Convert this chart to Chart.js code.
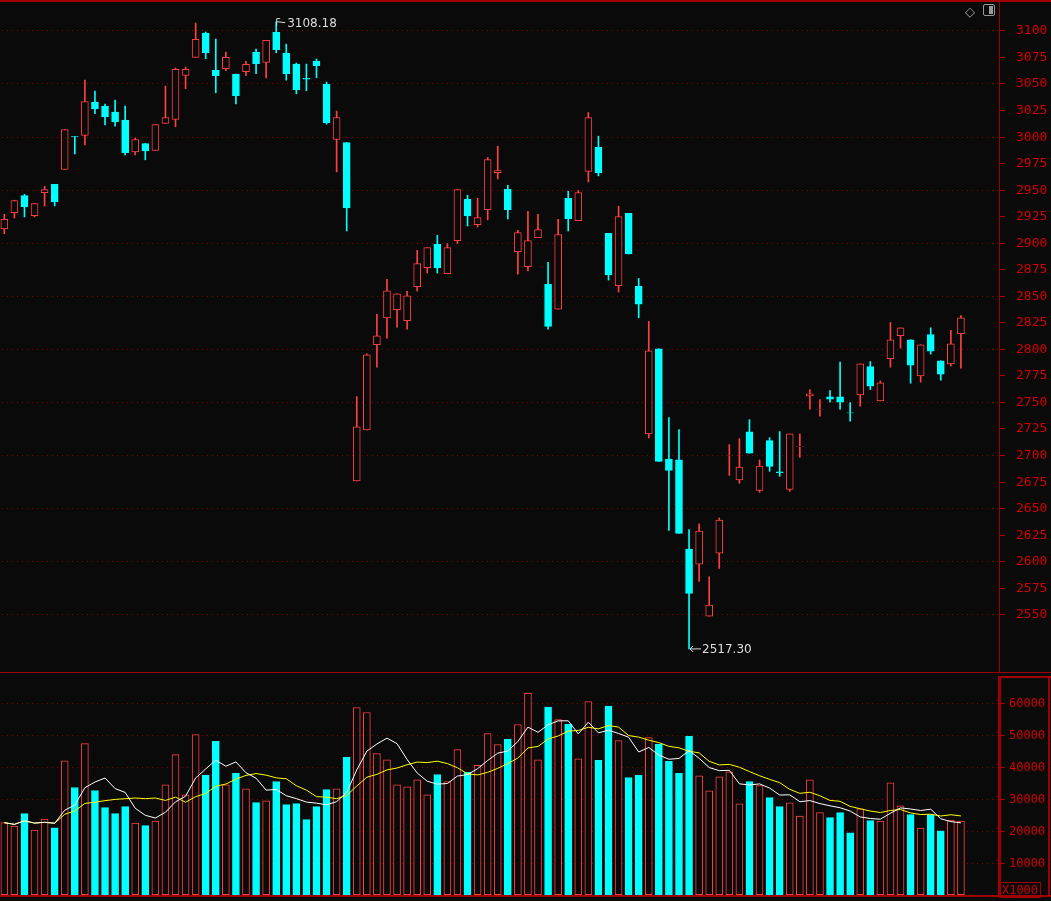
<!DOCTYPE html>
<html><head><meta charset="utf-8">
<script src="https://cdn.jsdelivr.net/npm/chart.js@4.4.1/dist/chart.umd.min.js"></script>
<style>
html,body{margin:0;padding:0;background:#0a0a0a;overflow:hidden;width:1051px;height:901px;}
#c1{position:absolute;left:0;top:0;}
#c2{position:absolute;left:0;top:676px;}
.ic{position:absolute;}
</style></head><body>
<canvas id="c1" width="1051" height="673"></canvas>
<canvas id="c2" width="1051" height="221"></canvas>
<div class="ic" style="left:965px;top:4px;color:#aaa;font:13px 'DejaVu Sans';">◇</div>
<div class="ic" style="left:983px;top:4px;width:10px;height:10px;border:1px solid #999;border-radius:2px;"><div style="position:absolute;right:1px;top:1px;width:4px;height:8px;background:#999"></div></div>
<div class="ic" style="left:999px;top:882px;width:40px;height:14px;border:1px solid #a00000;color:#d00000;font:12px 'DejaVu Sans Mono';line-height:14px;text-align:center;">X1000</div>
<script>
const opens  = [2912.9,2928.3,2944.3,2925.5,2947.2,2955.0,2968.9,3000.0,3001.0,3032.4,3028.6,3023.0,3015.4,2985.5,2993.4,2986.8,3012.3,3016.0,3057.5,3074.5,3097.5,3062.6,3063.8,3058.8,3061.0,3079.6,3069.8,3098.1,3078.6,3068.2,3054.7,3071.0,3049.4,2997.2,2994.3,2675.5,2723.6,2803.8,2829.2,2836.8,2826.4,2858.5,2876.4,2898.4,2870.7,2901.9,2940.9,2917.0,2931.1,2966.0,2950.3,2891.5,2877.4,2904.7,2860.7,2837.4,2941.8,2920.8,2967.0,2989.9,2908.8,2859.4,2927.6,2858.8,2719.8,2800.0,2696.2,2695.3,2611.3,2597.2,2548.1,2607.5,2699.7,2676.4,2721.7,2666.7,2713.5,2684.0,2667.6,2708.0,2755.7,2743.1,2754.7,2754.7,2739.8,2756.6,2783.3,2750.9,2790.6,2812.3,2808.5,2774.5,2813.5,2788.7,2785.8,2814.2];
const closes = [2922.0,2939.6,2933.6,2936.8,2950.0,2938.4,3006.6,2999.5,3033.0,3026.1,3018.5,3013.8,2984.6,2997.2,2986.5,3011.3,3017.9,3063.2,3063.2,3091.5,3078.9,3057.2,3074.5,3038.4,3067.9,3068.6,3090.6,3081.8,3059.1,3044.0,3054.0,3066.7,3012.9,3017.9,2932.7,2726.4,2794.4,2812.3,2854.7,2851.9,2850.0,2880.2,2895.3,2876.1,2895.3,2950.0,2925.2,2923.6,2978.3,2967.9,2930.8,2909.4,2901.9,2912.3,2821.1,2907.5,2922.3,2947.2,3017.9,2965.7,2869.5,2924.5,2889.3,2842.1,2798.1,2694.0,2685.5,2626.1,2569.5,2628.3,2558.5,2638.7,2699.9,2688.7,2701.6,2689.6,2689.3,2683.4,2719.8,2708.2,2757.5,2743.3,2752.5,2749.7,2739.6,2785.8,2764.8,2767.9,2808.5,2819.8,2784.6,2803.8,2797.8,2776.1,2804.7,2829.2];
const highs  = [2926.7,2940.0,2945.6,2937.0,2953.1,2955.0,3006.6,3000.0,3053.1,3042.8,3030.5,3034.3,3028.6,2998.7,2993.4,3011.3,3047.5,3064.5,3065.4,3106.9,3098.4,3091.8,3079.6,3058.8,3070.8,3082.4,3090.6,3108.18,3087.1,3069.2,3068.2,3073.0,3051.3,3023.9,2994.3,2755.0,2795.3,2832.4,2865.4,2851.9,2854.1,2892.8,2895.3,2906.9,2899.1,2950.0,2944.7,2941.8,2980.2,2990.9,2954.1,2911.6,2929.6,2926.7,2881.4,2922.0,2948.4,2949.1,3022.6,3000.3,2908.8,2934.3,2927.6,2866.3,2825.8,2800.0,2735.2,2723.9,2629.6,2635.2,2585.2,2640.6,2709.7,2715.4,2733.3,2695.3,2716.3,2722.0,2719.8,2719.8,2761.6,2752.2,2760.7,2787.4,2749.4,2785.8,2788.0,2769.8,2824.8,2819.8,2808.5,2803.8,2819.8,2788.7,2817.3,2831.4];
const lows   = [2908.5,2923.3,2924.2,2924.2,2934.6,2934.6,2968.9,2983.6,2992.1,3021.4,3011.0,3009.7,2982.7,2982.7,2978.0,2986.8,3012.3,3009.1,3045.0,3074.5,3073.3,3041.2,3062.0,3030.8,3057.2,3059.1,3055.3,3078.9,3053.1,3040.2,3043.1,3055.3,3011.6,2966.7,2911.0,2675.5,2723.6,2782.7,2810.1,2820.4,2818.5,2854.4,2871.4,2871.4,2870.7,2899.1,2915.7,2914.8,2921.4,2960.0,2922.3,2870.4,2873.3,2904.7,2818.5,2837.4,2911.0,2920.8,2957.2,2962.9,2864.8,2853.5,2889.3,2829.2,2716.0,2694.0,2628.9,2626.1,2517.3,2580.8,2548.1,2593.1,2680.8,2673.3,2701.6,2664.8,2684.6,2679.9,2665.7,2697.8,2743.1,2736.5,2749.7,2743.1,2731.8,2745.9,2761.6,2750.9,2782.7,2800.6,2767.6,2768.6,2795.0,2770.4,2784.0,2781.8];
const volumes= [22490,21440,25310,20190,23640,20920,41840,33470,47170,32530,27200,25310,27510,22380,21550,23010,34310,43720,31170,50000,37240,47910,34310,37870,33050,28770,29290,35350,28140,28450,23430,27510,32840,33050,42890,58470,56900,44040,42150,34310,33680,35880,31170,37550,35350,45290,38180,40380,50310,46860,48530,53140,62870,42150,58580,54700,53240,42470,60350,41940,58890,48120,36610,37240,49060,46970,41630,37870,49480,37130,32430,36820,38390,28350,35350,34100,30330,27510,28660,24580,35880,25630,24060,25630,19350,26780,23120,23010,34940,27720,25000,20820,25000,19980,23330,23010];
const priceTicks = [2550,2575,2600,2625,2650,2675,2700,2725,2750,2775,2800,2825,2850,2875,2900,2925,2950,2975,3000,3025,3050,3075,3100];
const volTicks = [10000,20000,30000,40000,50000,60000];

const RED='#ff4040', CYAN='#00ffff', BG='#0a0a0a', AX='#a00000', TXT='#d40000';
const n = opens.length;
const up = opens.map((o,i)=>closes[i]>=o);
function ma(arr,k){return arr.map((v,i)=>{const s=Math.max(0,i-k+1);let t=0;for(let j=s;j<=i;j++)t+=arr[j];return t/(i-s+1);});}

const bgPlugin={id:'bg',beforeDraw(c){const x=c.ctx;x.save();x.fillStyle=BG;x.fillRect(0,0,c.width,c.height);x.restore();}};
function gridPlugin(vals){return {id:'g',beforeDatasetsDraw(c){const x=c.ctx,y=c.scales.y,a=c.chartArea;x.save();x.fillStyle='#8a0000';
  vals.forEach(v=>{const py=Math.round(y.getPixelForValue(v));for(let px=a.left+2;px<a.right;px+=5)x.fillRect(px,py,1,1);});x.restore();}};}
function axisPlugin(vals,off,fs){return {id:'ax',afterDraw(c){const x=c.ctx,y=c.scales.y,a=c.chartArea;x.save();x.fillStyle=AX;x.fillRect(a.right-1,0,1,c.height);
  x.font=fs+'px "DejaVu Sans Mono"';x.textBaseline='middle';x.textAlign='left';
  vals.forEach(v=>{const py=Math.round(y.getPixelForValue(v));x.fillStyle=AX;x.fillRect(a.right,py,5,1);x.fillStyle=TXT;x.fillText(String(v),a.right+off,py+1);});x.restore();}};}
const xs={type:'linear',min:-0.43,max:98.88,display:false,offset:false};
const yHidden=(mn,mx)=>({position:'right',min:mn,max:mx,display:true,afterFit(s){s.width=51;},ticks:{display:false},grid:{display:false},border:{display:false}});

const wick={data:[],backgroundColor:[],barThickness:1,grouped:false,borderWidth:0};
const body={data:[],backgroundColor:[],borderColor:[],borderWidth:1,barThickness:7,grouped:false,borderSkipped:false};
for(let i=0;i<n;i++){
  wick.data.push({x:i,y:[lows[i],highs[i]]});wick.backgroundColor.push(up[i]?RED:CYAN);
  let lo=Math.min(opens[i],closes[i]),hi=Math.max(opens[i],closes[i]);
  body.data.push({x:i,y:[lo,hi]});
  body.backgroundColor.push(up[i]?BG:CYAN);body.borderColor.push(up[i]?RED:CYAN);
}
const labelPlugin={id:'lab',afterDatasetsDraw(c){const x=c.ctx,X=c.scales.x,Y=c.scales.y;x.save();x.strokeStyle='#ddd';x.fillStyle='#ddd';x.font='12px "DejaVu Sans"';x.lineWidth=1;
  let hi=highs.indexOf(Math.max(...highs)),lo=lows.indexOf(Math.min(...lows));
  let px=X.getPixelForValue(hi),py=Y.getPixelForValue(highs[hi]);
  x.beginPath();x.moveTo(px+0.5,py+4);x.lineTo(px+0.5,py-3);x.lineTo(px+4,py-3);x.moveTo(px+1,py);x.lineTo(px+9,py+1);x.stroke();
  x.textBaseline='middle';x.fillText(highs[hi].toFixed(2),px+11,py+2);
  px=X.getPixelForValue(lo);py=Y.getPixelForValue(lows[lo]);
  x.beginPath();x.moveTo(px+1,py);x.lineTo(px+12,py);x.moveTo(px+1,py);x.lineTo(px+4,py-3);x.moveTo(px+1,py);x.lineTo(px+4,py+3);x.stroke();
  x.fillText(lows[lo].toFixed(2),px+13,py+1);
  x.restore();}};
const framePlugin={id:'fr',afterDraw(c){const x=c.ctx;x.save();x.fillStyle=AX;x.fillRect(0,0,1051,2);x.fillRect(0,672,1051,1);x.restore();}};
const common={responsive:false,animation:false,events:[],devicePixelRatio:1,layout:{padding:0},plugins:{legend:{display:false},tooltip:{enabled:false}}};

new Chart(document.getElementById('c1'),{type:'bar',data:{datasets:[body,wick]},
 options:{...common,scales:{x:xs,y:yHidden(2494.6,3128.6)}},
 plugins:[bgPlugin,gridPlugin([2550,2600,2650,2700,2750,2800,2850,2900,2950,3000,3050,3100]),labelPlugin,axisPlugin(priceTicks,16,13),framePlugin]});

const vb={type:'bar',data:volumes.map((v,i)=>({x:i,y:v})),backgroundColor:volumes.map((v,i)=>up[i]?BG:CYAN),borderColor:volumes.map((v,i)=>up[i]?RED:CYAN),borderWidth:1,barThickness:7,borderSkipped:false,grouped:false,order:2};
const m5=ma(volumes,5),m10=ma(volumes,10);
const l5={type:'line',data:m5.map((v,i)=>({x:i,y:v})),borderColor:'#ffffff',borderWidth:1,pointRadius:0,order:0};
const l10={type:'line',data:m10.map((v,i)=>({x:i,y:v})),borderColor:'#ffff00',borderWidth:1,pointRadius:0,order:1};
const vframe={id:'vf',afterDraw(c){const x=c.ctx;x.save();x.fillStyle=AX;x.fillRect(998,0,3,221);x.fillRect(1000,0,51,2);x.fillRect(1048,0,2,221);x.fillRect(0,219,1051,2);x.restore();}};
new Chart(document.getElementById('c2'),{data:{datasets:[l5,l10,vb]},
 options:{...common,scales:{x:xs,y:yHidden(-720,68300)}},
 plugins:[bgPlugin,gridPlugin(volTicks),vframe,axisPlugin(volTicks,9,12)]});
</script></body></html>
